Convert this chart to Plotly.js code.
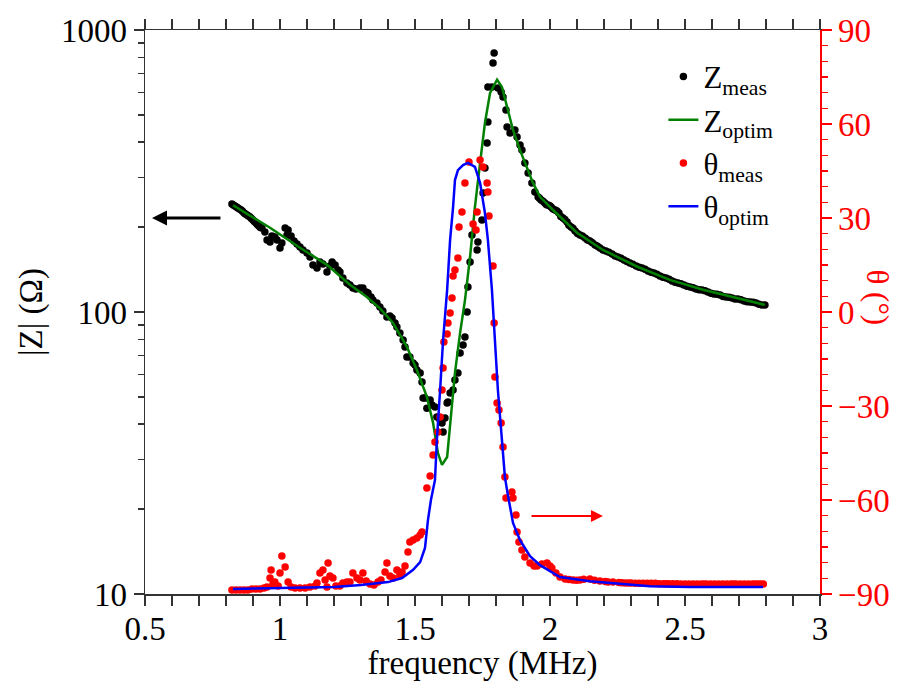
<!DOCTYPE html>
<html>
<head>
<meta charset="utf-8">
<script src="https://cdn.plot.ly/plotly-3.0.1.min.js"></script>
<style>html,body{margin:0;padding:0;background:#fff;}#chart{width:920px;height:682px;}</style>
</head>
<body>
<div id="chart"></div>
<script>
// ---- data ----
const freqZmeas = [0.822,0.833,0.844,0.856,0.867,0.878,0.889,0.900,0.911,0.922,
0.933,0.944,0.952,0.963,0.970,0.981,0.989,1.000,1.007,1.019,
1.026,1.030,1.041,1.052,1.063,1.074,1.085,1.100,1.111,1.122,
1.137,1.148,1.159,1.174,1.185,1.193,1.204,1.215,1.222,1.233,
1.248,1.259,1.270,1.281,1.296,1.307,1.319,1.326,1.337,1.344,
1.359,1.370,1.381,1.396,1.407,1.415,1.426,1.433,1.444,1.456,
1.463,1.470,1.481,1.493,1.500,1.507,1.519,1.526,1.530,1.537,
1.544,1.556,1.563,1.574,1.581,1.593,1.600,1.604,1.611,1.619,
1.622,1.630,1.641,1.648,1.659,1.667,1.678,1.685,1.693,1.696,
1.704,1.711,1.730,1.733,1.748,1.752,1.759,1.767,1.770,1.770,
1.785,1.789,1.793,1.807,1.819,1.826,1.837,1.841,1.852,1.870,
1.878,1.889,1.896,1.907,1.919,1.933,1.944,1.956,1.967,1.981,
1.993,2.004,2.019,2.033,2.048,2.063,2.078,2.093,2.111,2.130,
2.148,2.167,2.185,2.207,2.230,2.252,2.274,2.296,2.319,2.341,
2.363,2.385,2.407,2.430,2.452,2.474,2.496,2.519,2.541,2.563,
2.585,2.607,2.630,2.652,2.674,2.696,2.719,2.741,2.763,2.785,
2.796,
1.961,1.974,1.987,1.999,2.011,2.026,2.040,2.055,2.070,2.085,
2.102,2.120,2.139,2.157,2.176,2.196,2.218,2.241,2.263,2.285,
2.307,2.330,2.352,2.374,2.396,2.418,2.441,2.463,2.485,2.507,
2.530,2.552,2.574,2.596,2.618,2.641,2.663,2.685,2.707,2.730,
2.752,2.774,
0.827,0.839,0.850,0.861,0.872,0.883,0.894,0.905,0.916,0.927];
const zMeas = [241.5,237.6,233.8,230.0,224.4,220.8,217.2,212.0,206.8,201.8,
198.6,192.2,180.0,177.1,186.0,184.5,180.0,168.7,175.7,198.6,
187.5,195.4,186.0,178.6,174.2,170.0,165.9,161.9,156.7,146.8,
143.2,150.4,148.0,138.6,145.6,150.4,146.8,140.9,138.6,132.0,
126.7,124.7,121.7,120.7,121.7,121.7,117.8,116.8,113.0,110.3,
107.6,104.2,100.8,96.0,96.8,95.2,91.4,88.5,84.2,79.6,
75.1,69.2,69.2,65.9,64.9,62.3,60.8,56.5,49.5,49.5,
45.6,48.7,46.8,46.0,42.4,41.4,40.4,37.5,42.1,47.6,
48.0,51.6,52.9,57.4,60.8,71.6,76.4,81.5,100.0,122.7,
150.4,187.5,165.9,177.1,212.0,264.2,324.1,397.5,471.8,628,
628,763.8,828.6,622.8,602.7,578.6,520.4,452.9,431.2,442.0,
417.4,391.0,375.4,337.6,311.2,286.7,266.4,255.7,249.5,243.5,
239.5,235.7,230.0,224.4,215.4,208.5,200.1,193.8,187.5,183.0,
178.6,172.8,168.7,164.6,160.6,156.7,152.9,149.2,145.6,143.2,
139.8,137.5,134.2,132.0,128.8,126.7,124.7,122.7,120.7,119.7,
117.8,115.8,114.9,113.0,112.1,111.2,109.4,108.5,107.6,105.9,
105.9,
253,247,240,238,232,228,218,213,203,198,
190,186,180,176,171,166,163,158,155,151,
147.8,144.0,141.8,138.3,136.2,132.8,130.6,127.4,126.0,123.4,
122.0,120.0,119.0,116.5,115.6,113.6,112.8,111.3,110.6,108.8,
108.2,106.5,
239.5,235.5,232.0,227.5,222.5,219.0,214.5,209.5,204.0,199.5];

const freqZoptim = [0.826,0.963,1.074,1.174,1.259,1.322,1.370,1.419,1.470,1.507,
1.544,1.567,1.585,1.600,1.619,1.630,1.648,1.667,1.685,1.704,
1.722,1.741,1.759,1.778,1.804,1.822,1.841,1.863,1.889,1.915,
1.937,1.963,2.011,2.100,2.196,2.322,2.444,2.567,2.693,2.796];
const zOptim = [239,199,169,147,125,113,103,91.4,75.2,62.3,
50.0,40.4,31.6,28.7,30.6,40.4,60.8,84.3,110,157,
236,337,468,598,666,628,533,442,375,327,
287,256,230,191,166,145,130,120,112,106];

const freqThetaMeas = [0.822,0.837,0.852,0.867,0.881,0.896,0.911,0.926,0.941,0.952,
0.963,0.967,0.974,0.981,0.993,1.000,1.007,1.019,1.030,1.041,
1.056,1.074,1.093,1.111,1.130,1.137,1.148,1.159,1.167,1.174,
1.178,1.185,1.196,1.207,1.222,1.233,1.248,1.259,1.270,1.285,
1.296,1.307,1.319,1.333,1.348,1.363,1.374,1.389,1.396,1.407,
1.419,1.433,1.444,1.452,1.463,1.474,1.481,1.493,1.507,1.519,
1.526,
1.544,1.556,1.567,1.574,1.585,1.593,1.600,1.604,1.607,1.619,
1.622,1.630,1.637,1.641,1.648,1.659,1.663,1.674,1.685,1.700,
1.715,1.726,1.730,1.741,1.752,1.767,1.770,1.774,1.789,1.793,
1.796,1.804,1.811,1.819,1.826,1.833,1.837,1.859,1.863,1.874,
1.878,1.885,1.896,1.907,1.926,1.941,1.952,1.970,1.989,2.000,
2.007,2.022,2.037,2.056,2.085,2.111,2.148,2.185,2.233,2.278,
2.30,2.33,2.36,2.39,2.42,2.44,2.47,2.50,2.53,2.56,
2.58,2.61,2.64,2.67,2.69,2.72,2.75,2.77,2.79,
2.070,2.098,2.125,2.165,2.205,2.215,2.255,2.265,2.290,2.315,
2.345,2.375,2.405,2.430,2.455,2.485,2.515,2.545,2.570,2.595,
2.625,2.655,2.680,2.705,2.735,2.760,2.780];
const thetaMeas = [-88.72,-88.72,-88.72,-88.72,-88.72,-88.40,-88.40,-88.40,-88.09,-87.77,
-84.89,-82.34,-86.81,-86.17,-87.45,-83.30,-77.87,-81.38,-86.17,-87.77,
-88.09,-88.09,-88.09,-87.77,-87.45,-86.49,-83.30,-82.34,-85.53,-87.77,
-80.11,-84.26,-84.89,-87.45,-87.45,-86.49,-86.17,-86.17,-83.30,-84.89,
-85.53,-83.30,-85.85,-86.81,-87.13,-86.17,-85.53,-82.98,-80.11,-84.26,
-84.89,-82.34,-83.94,-82.98,-81.06,-76.60,-73.40,-72.77,-72.13,-71.17,
-70.21,
-56.17,-52.34,-45.64,-41.49,-38.30,-33.51,-24.89,-17.87,-9.57,-7.02,
-3.51,-0.32,4.47,11.49,13.40,17.23,27.13,31.91,41.17,47.87,
28.09,26.17,31.91,48.51,46.28,41.17,38.30,30.64,14.68,-3.51,
-20.74,-29.04,-31.28,-35.43,-43.09,-52.66,-59.36,-57.45,-59.36,-64.79,
-70.21,-73.40,-75.96,-78.19,-80.11,-81.06,-81.06,-80.43,-80.11,-81.06,
-81.70,-83.30,-84.57,-85.21,-85.53,-85.53,-85.21,-85.85,-86.17,-86.49,
-86.5,-86.6,-86.6,-86.6,-86.7,-86.7,-86.7,-86.8,-86.8,-86.8,
-86.8,-86.8,-86.8,-86.8,-86.8,-86.8,-86.8,-86.8,-86.8,
-85.4,-85.6,-85.3,-85.6,-86.0,-86.2,-86.3,-86.4,-86.5,-86.6,
-86.6,-86.6,-86.7,-86.7,-86.7,-86.8,-86.8,-86.8,-86.8,-86.8,
-86.8,-86.8,-86.8,-86.8,-86.8,-86.8,-86.8];

const freqThetaOptim = [0.826,1.000,1.200,1.300,1.400,1.452,1.493,1.519,1.537,1.548,
1.559,1.574,1.581,1.593,1.604,1.619,1.630,1.641,1.648,1.659,
1.678,1.696,1.722,1.741,1.759,1.770,1.785,1.796,1.807,1.822,
1.833,1.844,1.863,1.889,1.926,1.963,2.037,2.148,2.233,2.370,
2.519,2.789];
const thetaOptim = [-88.4,-88.1,-87.8,-87.1,-86.2,-84.9,-82.3,-79.8,-75.3,-66.4,
-60.0,-53.6,-40.9,-24.9,-9.0,7.0,23.0,33.5,42.1,45.3,
46.9,47.6,46.3,41.2,31.6,23.0,7.0,-9.0,-24.9,-40.9,
-52.7,-58.4,-67.3,-72.8,-77.9,-80.8,-84.6,-85.9,-86.5,-87.5,
-87.8,-87.8];

const xTickVals = [0.5,1,1.5,2,2.5,3];
const xTickText = ['0.5','1','1.5','2','2.5','3'];
const zTickVals = [10,100,1000];
const zTickText = ['10','100','1000'];
const thetaTickVals = [-90,-60,-30,0,30,60,90];
const thetaTickText = ['\u221290','\u221260','\u221230','0','30','60','90'];

// ---- chart ----
const FONT = 'Liberation Serif, DejaVu Serif, serif';
const traces = [
  {x:freqZmeas, y:zMeas, type:'scatter', mode:'markers', name:'Z<sub>meas</sub>',
   marker:{color:'black', size:7.5}, yaxis:'y'},
  {x:freqZoptim, y:zOptim, type:'scatter', mode:'lines', name:'Z<sub>optim</sub>',
   line:{color:'#008000', width:2.5}, yaxis:'y'},
  {x:freqThetaMeas, y:thetaMeas, type:'scatter', mode:'markers', name:'θ<sub>meas</sub>',
   marker:{color:'#ff0000', size:7.5}, yaxis:'y2'},
  {x:freqThetaOptim, y:thetaOptim, type:'scatter', mode:'lines', name:'θ<sub>optim</sub>',
   line:{color:'#0000ff', width:2.5}, yaxis:'y2'}
];

const axCol = '#333';
const layout = {
  width:920, height:682,
  margin:{l:145, r:100, t:30, b:88},
  paper_bgcolor:'white', plot_bgcolor:'white',
  font:{family:FONT, size:32, color:'black'},
  showlegend:true,
  legend:{x:0.768, y:0.965, xanchor:'left', yanchor:'top', bgcolor:'rgba(0,0,0,0)',
          font:{family:FONT, size:31, color:'black'}, tracegroupgap:0},
  xaxis:{range:[0.5,3], tickmode:'array', tickvals:xTickVals, ticktext:xTickText,
         ticks:'outside', ticklen:10, tickwidth:1.5, tickcolor:axCol,
         showline:true, linecolor:axCol, linewidth:1.5, mirror:'allticks',
         showgrid:false, zeroline:false, ticklabelstandoff:-5,
         minor:{dtick:0.1, tick0:0.5, ticks:'outside', ticklen:6, tickwidth:1.5, tickcolor:axCol, showgrid:false},
         tickfont:{family:FONT, size:33, color:'black'},
         title:{text:'frequency (MHz)', font:{family:FONT, size:33, color:'black'}, standoff:4}},
  yaxis:{type:'log', range:[1,3], tickmode:'array', tickvals:zTickVals, ticktext:zTickText,
         ticks:'outside', ticklen:10, tickwidth:1.5, tickcolor:axCol,
         showline:true, linecolor:axCol, linewidth:1.5,
         showgrid:false, zeroline:false,
         minor:{dtick:'D1', ticks:'outside', ticklen:6, tickwidth:1.5, tickcolor:axCol, showgrid:false},
         tickfont:{family:FONT, size:33, color:'black'},
         title:{text:'|Z| (Ω)', font:{family:FONT, size:33, color:'black'}, standoff:8}},
  yaxis2:{overlaying:'y', side:'right', range:[-90,90], tickmode:'array',
          tickvals:thetaTickVals, ticktext:thetaTickText,
          ticks:'outside', ticklen:10, tickwidth:1.5, tickcolor:'#ff0000',
          showline:true, linecolor:'#ff0000', linewidth:1.5,
          showgrid:false, zeroline:false,
          minor:{dtick:5, tick0:0, ticks:'outside', ticklen:6, tickwidth:1.5, tickcolor:'#ff0000', showgrid:false},
          tickfont:{family:FONT, size:33, color:'#ff0000'}},
  annotations:[
    {xref:'paper', yref:'paper', x:1.085, y:0.525, xanchor:'center', yanchor:'middle',
     text:'θ (°)', showarrow:false, textangle:90,
     font:{family:FONT, size:31, color:'#ff0000'}},
    {xref:'x', yref:'y', x:0.526, y:2.333, axref:'x', ayref:'y', ax:0.785, ay:2.333,
     text:'', showarrow:true, arrowhead:2, arrowsize:1, arrowwidth:3, arrowcolor:'black'},
    {xref:'x', yref:'y2', x:2.196, y:-65.1, axref:'x', ayref:'y2', ax:1.926, ay:-65.1,
     text:'', showarrow:true, arrowhead:2, arrowsize:1.2, arrowwidth:2, arrowcolor:'#ff0000'}
  ]
};

Plotly.newPlot('chart', traces, layout, {displayModeBar:false, staticPlot:true});
</script>
</body>
</html>
